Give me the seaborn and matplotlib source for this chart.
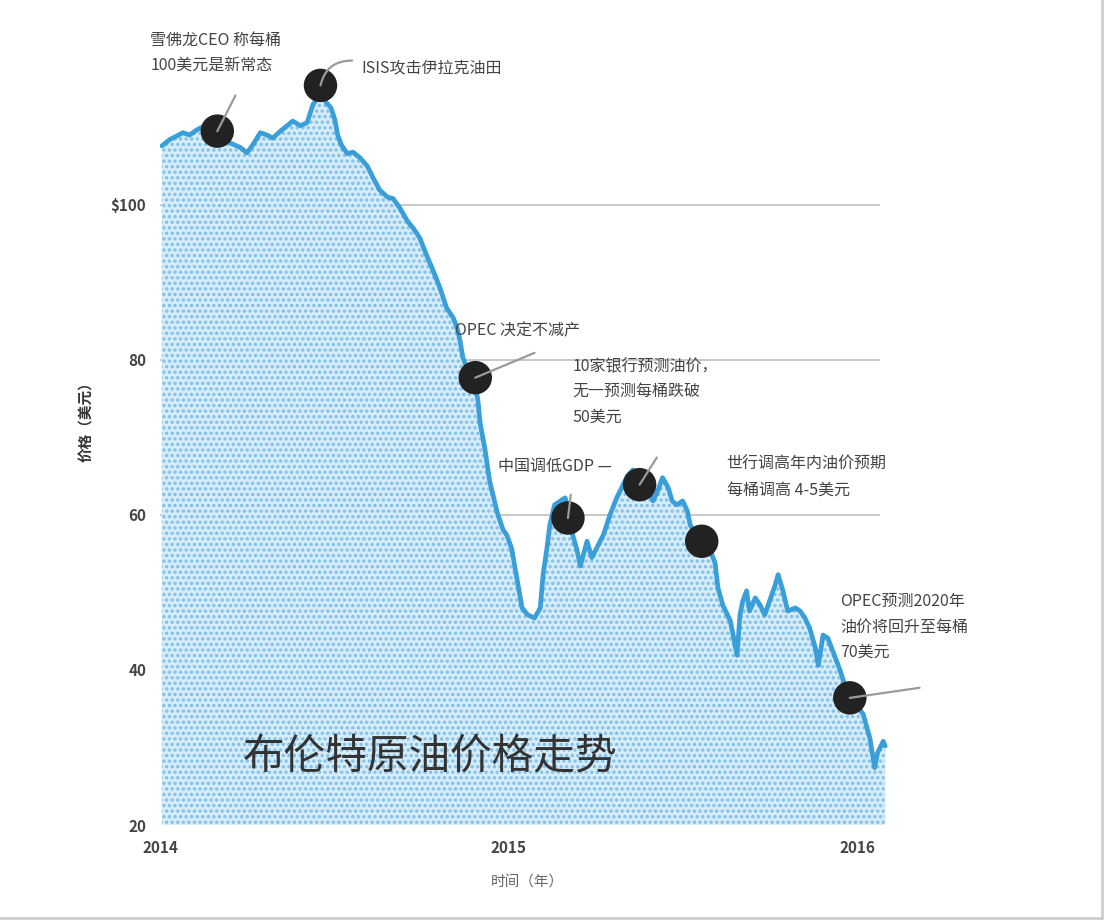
import pandas as pd
import numpy as np
import matplotlib
matplotlib.use('Agg')
import matplotlib.pyplot as plt
import seaborn as sns

sns.set_style('white')
plt.rcParams['font.family'] = ['Noto Sans CJK SC', 'DejaVu Sans']
plt.rcParams['axes.unicode_minus'] = False
plt.rcParams['hatch.linewidth'] = 1.6

# 布伦特原油价格：距 2014-01-01 的天数，价格（美元）
days = [2, 10, 18, 24, 31, 39, 47, 60, 73, 84, 91, 97, 105, 112, 118, 126, 133, 139,
        147, 154, 160, 165, 168, 174, 179, 183, 186, 190, 196, 202, 209, 217, 223, 230,
        238, 244, 251, 259, 265, 272, 279, 286, 293, 300, 307, 311, 314, 317, 322, 330,
        333, 335, 340, 345, 353, 359, 363, 368, 374, 379, 385, 392, 398, 401, 405, 408,
        413, 419, 424, 429, 432, 436, 440, 443, 447, 452, 457, 464, 471, 478, 484, 489,
        495, 502, 510, 516, 521, 526, 532, 536, 541, 547, 552, 555, 561, 567, 576, 581,
        584, 589, 597, 604, 607, 610, 614, 617, 623, 628, 633, 638, 644, 647, 652, 657,
        665, 670, 675, 680, 686, 689, 694, 699, 704, 712, 717, 722, 729, 736, 743, 748,
        751, 757, 759]
price = [107.6, 108.4, 108.9, 109.3, 109.0, 109.7, 110.2, 109.9, 108.0, 107.4, 106.7,
         107.7, 109.3, 109.0, 108.6, 109.5, 110.2, 110.8, 110.2, 110.6, 112.9, 113.8,
         115.0, 113.2, 112.5, 111.0, 109.0, 107.7, 106.6, 106.8, 106.1, 105.0, 103.5,
         101.9, 101.0, 100.8, 99.6, 97.9, 97.0, 95.7, 93.5, 91.5, 89.3, 86.7, 85.4, 84.1,
         82.5, 80.3, 78.7, 77.0, 74.5, 71.9, 68.6, 64.4, 60.3, 58.1, 57.4, 55.7, 51.5,
         48.0, 47.1, 46.7, 48.0, 52.3, 55.7, 58.7, 61.3, 61.8, 62.2, 60.3, 57.4, 55.7,
         53.4, 54.8, 56.6, 54.5, 55.7, 57.4, 60.0, 62.2, 63.7, 65.0, 65.8, 65.0, 63.5,
         61.8, 63.1, 64.8, 63.5, 61.8, 61.3, 61.8, 60.5, 58.7, 57.4, 56.4, 55.4, 53.8,
         50.6, 48.4, 46.3, 41.9, 47.1, 48.9, 50.2, 47.6, 49.3, 48.4, 47.1, 48.9, 51.0,
         52.3, 50.2, 47.6, 48.0, 47.6, 46.7, 45.4, 42.8, 40.6, 44.5, 44.1, 42.5, 39.9,
         37.9, 36.4, 35.4, 34.3, 31.2, 27.4, 29.3, 30.8, 30.2]

# 事件点
event_days = [60, 168, 330, 427, 502, 567, 722]
event_price = [109.5, 115.4, 77.7, 59.6, 63.9, 56.6, 36.4]

yticks = [100, 80, 60, 40, 20]
ytick_labels = ['$100', '80', '60', '40', '20']
grid_levels = [100, 80, 60]
xtick_dates = ['2014-01-01', '2015-01-01', '2016-01-01']
xtick_labels = ['2014', '2015', '2016']

start = pd.Timestamp('2014-01-01')
df = pd.DataFrame({'date': start + pd.to_timedelta(days, unit='D'), 'price': price})
ev = pd.DataFrame({'date': start + pd.to_timedelta(event_days, unit='D'), 'price': event_price})

def d(n):
    return start + pd.Timedelta(days=n)

fig = plt.figure(figsize=(11.04, 9.22), dpi=100)
ax = fig.add_axes([0.1449, 0.1052, 0.6664, 0.8829])

line_c = '#3a9fd8'
ax.hlines(grid_levels, d(0), d(754), color='#c4c4c4', lw=1.3, zorder=1)
ax.fill_between(df['date'], 20, df['price'], facecolor='#d6ecf9', edgecolor='#7dbfe9',
                hatch='...', lw=0, zorder=2)
sns.lineplot(data=df, x='date', y='price', ax=ax, color=line_c, lw=3.4, zorder=3)
sns.scatterplot(data=ev, x='date', y='price', ax=ax, color='#222222', s=580,
                edgecolor='none', zorder=4, legend=False)

# 连接线
links = [(0, 79, 114.1), (1, 201, 118.6), (2, 392, 80.9), (3, 430, 62.6),
         (4, 520, 67.4), (6, 795, 37.7)]
for i, ex, ey in links:
    rad = -0.4 if i == 1 else 0
    ax.annotate('', xy=(d(ex), ey), xytext=(ev['date'][i], ev['price'][i]),
                arrowprops=dict(arrowstyle='-', color='#9a9a9a', lw=1.6,
                                connectionstyle=f'arc3,rad={rad}',
                                shrinkA=0, shrinkB=0),
                annotation_clip=False, zorder=5)

tc = '#444444'
fs = 11.5
texts = [
    (-10, 122.3, '雪佛龙CEO 称每桶\n100美元是新常态', 'top'),
    (211, 117.7, 'ISIS攻击伊拉克油田', 'center'),
    (309, 83.7, 'OPEC 决定不减产', 'center'),
    (432, 80.2, '10家银行预测油价，\n无一预测每桶跌破\n50美元', 'top'),
    (354, 66.3, '中国调低GDP —', 'center'),
    (593, 67.6, '世行调高年内油价预期\n每桶调高 4-5美元', 'top'),
    (712, 49.9, 'OPEC预测2020年\n油价将回升至每桶\n70美元', 'top'),
]
for x, y, s, va in texts:
    ax.text(d(x), y, s, fontsize=fs, color=tc, va=va, ha='left', linespacing=1.65,
            zorder=6)

ax.text(d(87), 28.6, '布伦特原油价格走势', fontsize=30, color='#333333', va='center',
        ha='left', zorder=6)

ax.set_xlim(d(0), d(770))
ax.set_ylim(20, 125)
ax.set_yticks(yticks)
ax.set_yticklabels(ytick_labels)
ax.set_xticks(pd.to_datetime(xtick_dates))
ax.set_xticklabels(xtick_labels)
ax.tick_params(axis='both', length=0, labelsize=11, labelcolor='#444444')
ax.tick_params(axis='x', pad=11)
ax.tick_params(axis='y', pad=10)
for lab in ax.get_xticklabels() + ax.get_yticklabels():
    lab.set_fontweight('bold')
ax.set_xlabel('时间（年）', fontsize=10.5, color='#666666', labelpad=14)
ax.set_ylabel('价格（美元）', fontsize=10.5, color='#333333', labelpad=12,
              fontweight='bold')
sns.despine(ax=ax, left=True, bottom=True)

# 外框
fig.add_artist(plt.Line2D([0.998, 0.998], [0.004, 1], color='#cccccc', lw=2))
fig.add_artist(plt.Line2D([0, 0.998], [0.004, 0.004], color='#cccccc', lw=2))

fig.savefig('out.png', dpi=100)
